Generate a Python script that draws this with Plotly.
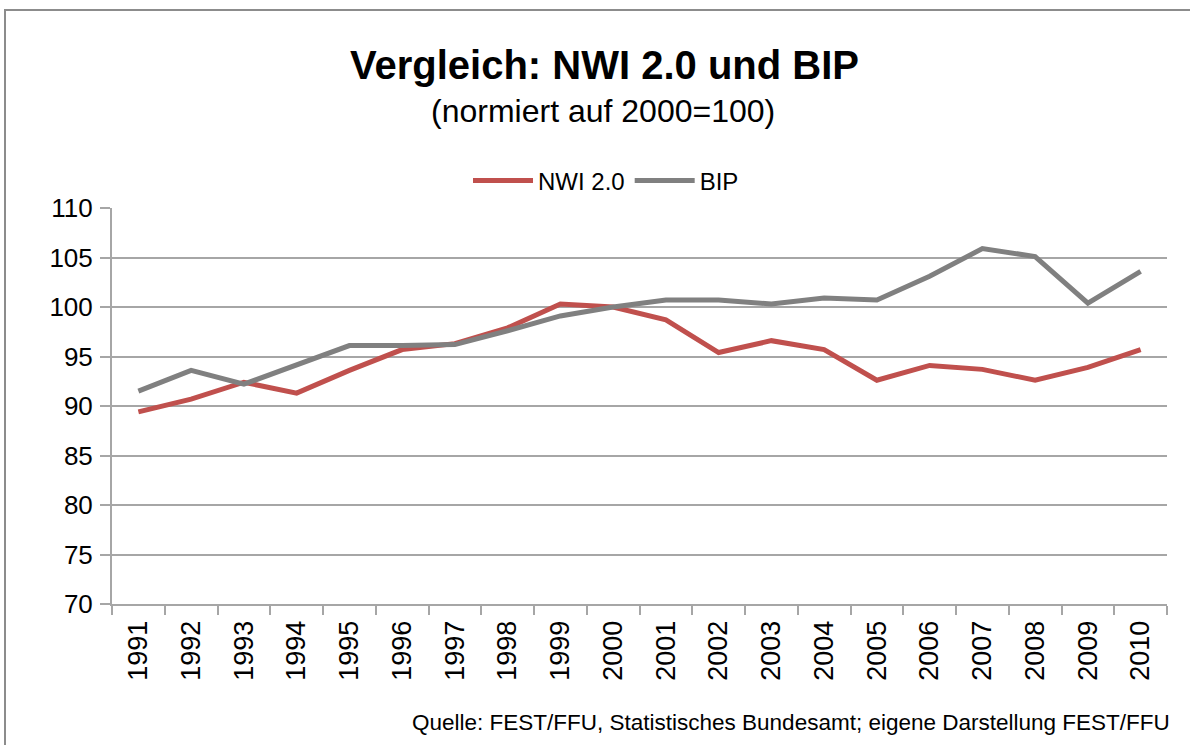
import plotly.graph_objects as go

years = [str(y) for y in range(1991, 2011)]
nwi = [89.4, 90.7, 92.4, 91.3, 93.6, 95.7, 96.3, 97.9, 100.3, 100.0,
       98.7, 95.4, 96.6, 95.7, 92.6, 94.1, 93.7, 92.6, 93.9, 95.7]
bip = [91.5, 93.6, 92.2, 94.2, 96.1, 96.1, 96.2, 97.6, 99.1, 100.0,
       100.7, 100.7, 100.3, 100.9, 100.7, 103.1, 105.9, 105.1, 100.4, 103.6]

title_text = "<b>Vergleich: NWI 2.0 und BIP</b>"
subtitle_text = "(normiert auf 2000=100)"
source_text = "Quelle: FEST/FFU, Statistisches Bundesamt; eigene Darstellung FEST/FFU"

W, H = 1190, 745
L, R, T, B = 112, 23, 208, 141
PW, PH = W - L - R, H - T - B

def px(x):
    return (x - L) / PW

def py(y):
    return (H - B - y) / PH

FONT = "Liberation Sans, Arial, sans-serif"

fig = go.Figure()
fig.add_trace(go.Scatter(x=years, y=nwi, mode="lines", name="NWI 2.0",
                         line=dict(color="#c0504d", width=5)))
fig.add_trace(go.Scatter(x=years, y=bip, mode="lines", name="BIP",
                         line=dict(color="#808080", width=5)))

fig.update_layout(
    width=W, height=H,
    margin=dict(l=L, r=R, t=T, b=B, pad=0),
    paper_bgcolor="white", plot_bgcolor="white",
    font=dict(family=FONT, color="black", size=24),
    showlegend=True,
    legend=dict(orientation="h", x=px(606), xanchor="center", y=py(181), yanchor="middle",
                font=dict(size=24, family=FONT), itemwidth=60, traceorder="normal",
                bgcolor="rgba(0,0,0,0)"),
    xaxis=dict(type="category", tickangle=-90, showline=True, linecolor="#a6a6a6", linewidth=2,
               ticks="outside", tickson="boundaries", ticklen=9, tickcolor="#a6a6a6", tickwidth=2,
               showgrid=False, tickfont=dict(size=27, family=FONT), ticklabelstandoff=4,
               range=[-0.5, 19.5], zeroline=False),
    yaxis=dict(range=[70, 110], dtick=5, tick0=70, showline=True, linecolor="#a6a6a6", linewidth=2,
               ticks="outside", ticklen=10, tickcolor="#a6a6a6", tickwidth=2,
               showgrid=True, gridcolor="#a6a6a6", gridwidth=2,
               tickfont=dict(size=26, family=FONT), zeroline=False, ticklabelstandoff=2),
    annotations=[
        dict(text=title_text, xref="paper", yref="paper", x=px(604), y=py(65),
             xanchor="center", yanchor="middle", showarrow=False,
             font=dict(size=40, family=FONT, color="black")),
        dict(text=subtitle_text, xref="paper", yref="paper", x=px(603), y=py(111),
             xanchor="center", yanchor="middle", showarrow=False,
             font=dict(size=32, family=FONT, color="black")),
        dict(text=source_text, xref="paper", yref="paper", x=px(1172), y=py(722),
             xanchor="right", yanchor="middle", showarrow=False,
             font=dict(size=22.5, family=FONT, color="black")),
    ],
    shapes=[
        dict(type="rect", xref="paper", yref="paper", x0=px(5), y0=py(H + 20), x1=px(W + 20), y1=py(10),
             line=dict(color="#8c8c8c", width=2), fillcolor="rgba(0,0,0,0)", layer="below"),
    ],
)

fig.write_html("out.html", config={"displayModeBar": False},
               post_script="document.body.style.margin='0px';document.body.style.overflow='hidden';")
